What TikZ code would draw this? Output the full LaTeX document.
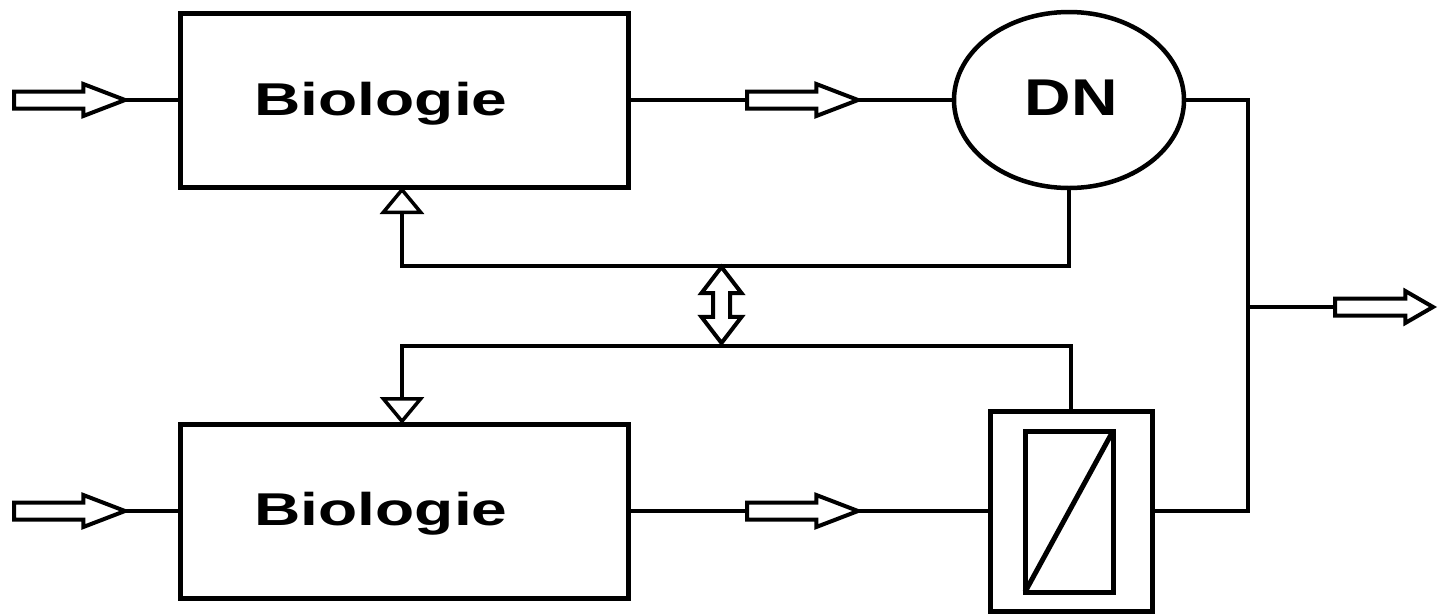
\documentclass[tikz,border=0pt]{standalone}
\usepackage{fontspec}
\setmainfont{Liberation Sans}
\usepackage{graphicx}
\usetikzlibrary{shapes.geometric,shapes.arrows,arrows.meta}
\tikzset{
  blk/.style={draw, line width=5pt, minimum width=448pt, minimum height=174pt, inner sep=0pt, outer sep=0pt},
  conn/.style={line width=3.5pt},
  fbline/.style={line width=3.5pt, -{Triangle[open,length=27pt,width=44pt]}},
  harrow/.style={single arrow, draw, line width=4pt, inner xsep=0pt, inner ysep=6.5pt, outer sep=0pt,
    single arrow head extend=7.5pt, single arrow tip angle=42, minimum height=111pt, anchor=tail},
  lbl/.style={font=\fontsize{46}{50}\selectfont\bfseries, inner sep=0pt, anchor=base},
}
\begin{document}
\begin{tikzpicture}[x=1pt,y=-1pt]
\useasboundingbox (0,0) rectangle (1438,614);
% boxes
\node[blk] (bio1) at (404,100) {};
\node[blk] (bio2) at (404,511) {};
\node[lbl] (t1) at (381,115) {\scalebox{1.394}[1]{Biologie}};
\node[lbl] (t2) at (381,525) {\scalebox{1.394}[1]{Biologie}};
\node[draw, ellipse, line width=4.5pt, minimum width=230pt, minimum height=176pt, inner sep=0pt, outer sep=0pt] (dn) at (1069,100) {};
\node[inner sep=0pt, anchor=base, font=\fontsize{51.7}{55}\selectfont\bfseries] (tdn) at (1071,115) {\scalebox{1.245}[1]{DN}};
% filter
\node[draw, line width=5pt, minimum width=162pt, minimum height=200pt, inner sep=0pt, outer sep=0pt] (filter) at (1071,511) {};
\node[draw, line width=5pt, minimum width=88pt, minimum height=161pt, inner sep=0pt, outer sep=0pt] (filterin) at (1069,511.5) {};
\draw[line width=5pt] (filterin.south west) -- (filterin.north east);
% hollow arrows
\node[harrow] (in1) at (14,100) {};
\node[harrow] (in2) at (14,511) {};
\node[harrow] (m1) at (747,100) {};
\node[harrow] (m2) at (747,511) {};
\node[harrow, minimum height=98pt, single arrow tip angle=60] (out) at (1335,307) {};
\node[double arrow, draw, line width=4pt, rotate=90, inner xsep=0pt, inner ysep=6.5pt, outer sep=0pt,
  double arrow head extend=11.5pt, double arrow tip angle=75, minimum height=76pt] (dbl) at (721.5,305) {};
% junctions
\coordinate (j1) at (1248,100);
\coordinate (j2) at (1248,511);
\coordinate (j3) at (1248,307);
\coordinate (fa) at (402,266);
\coordinate (fb) at (402,346);
% connectors
\draw[conn] (in1.tip) -- (bio1.west);
\draw[conn] (in2.tip) -- (bio2.west);
\draw[conn] (bio1.east) -- (m1.tail);
\draw[conn] (m1.tip) -- (dn.west);
\draw[conn] (bio2.east) -- (m2.tail);
\draw[conn] (m2.tip) -- (filter.west);
\draw[conn] (dn.east) -- (j1) -- (j2) -- (filter.east);
\draw[conn] (j3) -- (out.tail);
\draw[fbline] (dn.south) |- (fa) -- (fa |- bio1.south);
\draw[fbline] (filter.north) |- (fb) -- (fb |- bio2.north);
\end{tikzpicture}
\end{document}
